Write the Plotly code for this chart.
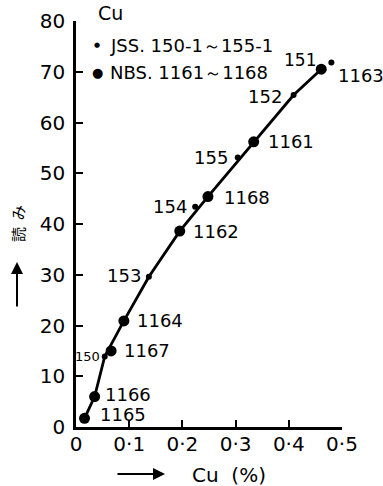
import plotly.graph_objects as go

# ---- data ----
jss_labels = ["150", "151", "152", "153", "154", "155"]
jss_x = [0.054, 0.480, 0.409, 0.137, 0.224, 0.304]
jss_y = [13.9, 71.8, 65.4, 29.6, 43.4, 53.1]

nbs_labels = ["1161", "1162", "1163", "1164", "1165", "1166", "1167", "1168"]
nbs_x = [0.334, 0.195, 0.461, 0.090, 0.016, 0.035, 0.066, 0.248]
nbs_y = [56.2, 38.6, 70.5, 20.9, 1.7, 6.0, 15.0, 45.4]

curve_x = [0.016, 0.035, 0.054, 0.090, 0.137, 0.195, 0.248, 0.334, 0.409, 0.461]
curve_y = [1.7, 6.0, 13.9, 20.9, 29.6, 38.6, 45.4, 56.2, 65.4, 70.5]

x_tickvals = [0, 0.1, 0.2, 0.3, 0.4, 0.5]
x_ticktext = ["0", "0·1", "0·2", "0·3", "0·4", "0·5"]
y_tickvals = [0, 10, 20, 30, 40, 50, 60, 70, 80]
y_ticktext = ["0", "10", "20", "30", "40", "50", "60", "70", "80"]

legend_title = "Cu"
legend_jss = "JSS. 150-1～155-1"
legend_nbs = "NBS. 1161～1168"
x_title = "Cu  (%)"
y_title = "読  み"

# ---- label placement (style) : anchor side, xshift, yshift, font size ----
label_style = {
    "150": ("right", -3, 0, 13),
    "151": ("right", -13, 3, 17),
    "152": ("right", -10, -1, 18),
    "153": ("right", -6, 1, 18),
    "154": ("right", -6, 0, 18),
    "155": ("right", -8, 0, 18),
    "1161": ("left", 12, 0, 18),
    "1162": ("left", 11, 0, 18),
    "1163": ("left", 15, -6, 18),
    "1164": ("left", 11, 0, 18),
    "1165": ("left", 13, 4, 18),
    "1166": ("left", 8, 2, 18),
    "1167": ("left", 11, 0, 18),
    "1168": ("left", 14, -1, 18),
}

FONT = "DejaVu Sans"
W, H = 383, 486
ML, MR, MT, MB = 76, 41, 21, 59
PW, PH = W - ML - MR, H - MT - MB


def px(xp):
    return (xp - ML) / PW


def py(yp):
    return (H - MB - yp) / PH


fig = go.Figure()
fig.add_trace(go.Scatter(x=curve_x, y=curve_y, mode="lines",
                         line=dict(color="black", width=2.8), cliponaxis=False,
                         hoverinfo="skip"))
fig.add_trace(go.Scatter(x=jss_x, y=jss_y, mode="markers",
                         marker=dict(color="black", size=6), cliponaxis=False))
fig.add_trace(go.Scatter(x=nbs_x, y=nbs_y, mode="markers",
                         marker=dict(color="black", size=11), cliponaxis=False))

annotations = []
for labels, xs, ys in ((jss_labels, jss_x, jss_y), (nbs_labels, nbs_x, nbs_y)):
    for lab, xv, yv in zip(labels, xs, ys):
        side, xs_, ys_, fs = label_style[lab]
        annotations.append(dict(x=xv, y=yv, xref="x", yref="y", text=lab,
                                showarrow=False, xanchor=side, yanchor="middle",
                                xshift=xs_, yshift=ys_,
                                font=dict(family=FONT, size=fs, color="black")))

# legend block
annotations += [
    dict(x=px(96), y=py(13), xref="paper", yref="paper", text=legend_title,
         showarrow=False, xanchor="left", yanchor="middle",
         font=dict(family=FONT, size=19, color="black")),
    dict(x=px(97), y=py(45), xref="paper", yref="paper", text="●",
         showarrow=False, xanchor="center", yanchor="middle",
         font=dict(family=FONT, size=7, color="black")),
    dict(x=px(108), y=py(45), xref="paper", yref="paper", text=legend_jss,
         showarrow=False, xanchor="left", yanchor="middle",
         font=dict(family=FONT, size=18, color="black")),
    dict(x=px(97), y=py(72), xref="paper", yref="paper", text="●",
         showarrow=False, xanchor="center", yanchor="middle",
         font=dict(family=FONT, size=13, color="black")),
    dict(x=px(108), y=py(72), xref="paper", yref="paper", text=legend_nbs,
         showarrow=False, xanchor="left", yanchor="middle",
         font=dict(family=FONT, size=18, color="black")),
]

# axis titles with arrows
annotations += [
    dict(x=px(229), y=py(475), xref="paper", yref="paper", text=x_title,
         showarrow=False, xanchor="center", yanchor="middle",
         font=dict(family=FONT, size=20, color="black")),
    dict(x=px(165), y=py(474), xref="paper", yref="paper", text="",
         showarrow=True, ax=-49, ay=0, arrowhead=2, arrowsize=1.2,
         arrowwidth=2, arrowcolor="black"),
    dict(x=px(17), y=py(224), xref="paper", yref="paper", text=y_title,
         showarrow=False, textangle=-90, xanchor="center", yanchor="middle",
         font=dict(family="Noto Sans CJK JP", size=15, color="black")),
    dict(x=px(17), y=py(262), xref="paper", yref="paper", text="",
         showarrow=True, ax=0, ay=46, arrowhead=2, arrowsize=1.2,
         arrowwidth=2, arrowcolor="black"),
]

axis_common = dict(showline=True, linecolor="black", linewidth=2.5,
                   ticks="inside", ticklen=7, tickwidth=1.5, tickcolor="black",
                   showgrid=False, zeroline=False, automargin=False,
                   tickfont=dict(family=FONT, size=20, color="black"))

fig.update_layout(
    width=W, height=H,
    margin=dict(l=ML, r=MR, t=MT, b=MB),
    paper_bgcolor="white", plot_bgcolor="white",
    showlegend=False,
    xaxis=dict(range=[0, 0.5], tickvals=x_tickvals, ticktext=x_ticktext,
               ticklabelstandoff=-3, **axis_common),
    yaxis=dict(range=[0, 80], tickvals=y_tickvals, ticktext=y_ticktext,
               ticklabelstandoff=4, **axis_common),
    annotations=annotations,
)

fig.write_html("out.html")
